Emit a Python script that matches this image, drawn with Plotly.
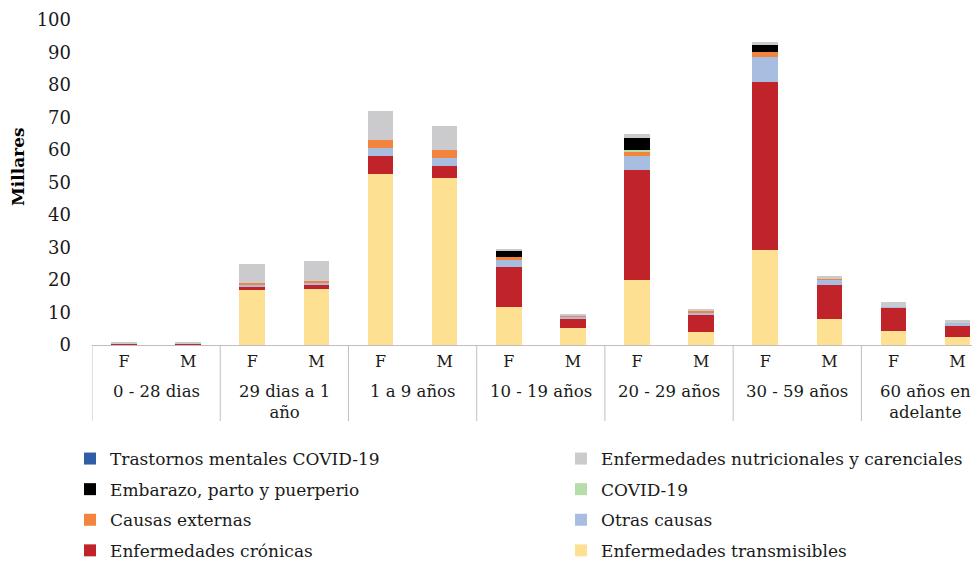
import plotly.graph_objects as go

groups = ["0 - 28 dias", "29 dias a 1<br>año", "1 a 9 años", "10 - 19 años",
          "20 - 29 años", "30 - 59 años", "60 años en<br>adelante"]
sexes = ["F", "M"]

x_labels = [s for _ in groups for s in sexes]
x_pos = list(range(len(x_labels)))

# values in thousands (Millares), order: F, M for each age group
transmisibles = [0.1, 0.1, 16.8, 17.3, 52.6, 51.4, 11.8, 5.1, 19.9, 3.9, 29.1, 8.1, 4.4, 2.6]
cronicas      = [0.3, 0.3, 1.1, 1.1, 5.5, 3.7, 12.3, 3.0, 33.9, 5.3, 51.9, 10.5, 7.2, 3.5]
otras         = [0.1, 0.1, 0.8, 0.8, 2.5, 2.5, 2.0, 0.8, 4.4, 0.8, 7.5, 1.4, 0.2, 0.6]
externas      = [0.0, 0.0, 0.5, 0.4, 2.4, 2.4, 1.0, 0.1, 1.2, 0.4, 1.7, 0.4, 0.0, 0.0]
covid         = [0.0, 0.0, 0.0, 0.0, 0.0, 0.0, 0.0, 0.0, 0.7, 0.0, 0.0, 0.0, 0.0, 0.0]
embarazo      = [0.0, 0.0, 0.0, 0.0, 0.0, 0.0, 1.8, 0.0, 3.5, 0.0, 2.0, 0.0, 0.0, 0.0]
nutricionales = [0.4, 0.4, 5.7, 6.4, 8.9, 7.5, 0.7, 0.5, 1.2, 0.8, 1.1, 0.8, 1.4, 1.0]
trastornos    = [0.0] * 14

series = [
    ("Enfermedades transmisibles", transmisibles, "#FEE092", "legend2", 4),
    ("Enfermedades crónicas", cronicas, "#C1232A", "legend", 4),
    ("Otras causas", otras, "#A8BEE0", "legend2", 3),
    ("Causas externas", externas, "#F2843D", "legend", 3),
    ("COVID-19", covid, "#B6DDA8", "legend2", 2),
    ("Embarazo, parto y puerperio", embarazo, "#000000", "legend", 2),
    ("Enfermedades nutricionales y carenciales", nutricionales, "#CBCBCD", "legend2", 1),
    ("Trastornos mentales COVID-19", trastornos, "#2E5EA5", "legend", 1),
]

FONT = "DejaVu Serif"
TXT = "#1a1a1a"
GRID = "#BFBFBF"
PLOT_H = 325.0

fig = go.Figure()
for name, vals, color, leg, rank in series:
    fig.add_trace(go.Bar(
        x=x_pos, y=vals, name=name,
        marker=dict(color=color, line=dict(width=0)),
        legend=leg, legendgroup=name, legendrank=rank,
    ))

# group dividers below the axis and group labels
for i, g in enumerate(groups):
    fig.add_shape(type="line", xref="x", yref="paper",
                  x0=2 * i - 0.5, x1=2 * i - 0.5, y0=0, y1=-76 / PLOT_H,
                  line=dict(color=GRID, width=1))
    fig.add_annotation(x=2 * i + 0.5, xref="x", y=0, yref="paper",
                       yshift=-35, yanchor="top", xanchor="center",
                       text=g, showarrow=False,
                       font=dict(family=FONT, size=16.5, color=TXT))
fig.add_shape(type="line", xref="x", yref="paper",
              x0=2 * len(groups) - 0.5, x1=2 * len(groups) - 0.5, y0=0, y1=-76 / PLOT_H,
              line=dict(color=GRID, width=1))

# y axis title
fig.add_annotation(x=0, xref="paper", xshift=-74, y=(PLOT_H - 147) / PLOT_H, yref="paper",
                   text="<b>Millares</b>", textangle=-90, showarrow=False,
                   xanchor="center", yanchor="middle",
                   font=dict(family=FONT, size=17, color="#000000"))

fig.update_layout(
    barmode="stack",
    bargap=0.6,
    width=972, height=553,
    margin=dict(l=84, r=0, t=12, b=216, autoexpand=False),
    plot_bgcolor="white", paper_bgcolor="white",
    font=dict(family=FONT, size=16, color=TXT),
    xaxis=dict(
        range=[-0.5, 13.35],
        tickmode="array", tickvals=x_pos, ticktext=x_labels,
        showline=True, linecolor=GRID, linewidth=1,
        tickfont=dict(family=FONT, size=16, color=TXT),
        tickangle=0, ticks="", ticklabelstandoff=2,
        showgrid=False, zeroline=False,
    ),
    yaxis=dict(
        range=[0, 100], dtick=10, showgrid=False, zeroline=False,
        showline=False,
        tickfont=dict(family=FONT, size=18, color=TXT),
        ticklabelstandoff=20,
    ),
    legend=dict(
        x=(70 - 92) / 888, y=-(441 - 345) / PLOT_H, xanchor="left", yanchor="top",
        orientation="v", traceorder="grouped", tracegroupgap=5.5,
        font=dict(family=FONT, size=17, color=TXT),
        bgcolor="rgba(0,0,0,0)",
    ),
    legend2=dict(
        x=(561 - 92) / 888, y=-(441 - 345) / PLOT_H, xanchor="left", yanchor="top",
        orientation="v", traceorder="grouped", tracegroupgap=5.5,
        font=dict(family=FONT, size=17, color=TXT),
        bgcolor="rgba(0,0,0,0)",
    ),
)

fig.write_html("out.html")
